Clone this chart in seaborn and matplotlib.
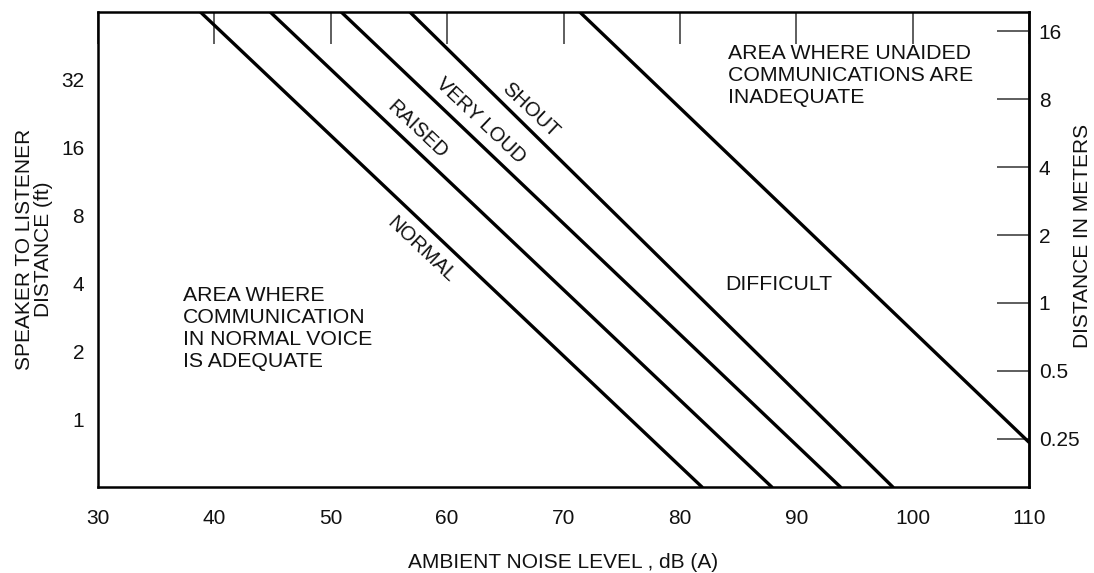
import matplotlib
matplotlib.use("Agg")
import matplotlib.pyplot as plt
import matplotlib.ticker as mticker
import pandas as pd
import seaborn as sns

sns.set_style("white")
plt.rcParams["font.family"] = ["Liberation Sans", "DejaVu Sans"]

# voice effort lines: noise level (dB A) where each line meets the top (64 ft) and bottom (0.5 ft)
voice_levels = ["NORMAL", "RAISED", "VERY LOUD", "SHOUT"]
noise_at_top = [38.8, 44.8, 50.9, 56.8]
noise_at_bottom = [81.9, 87.9, 93.8, 98.3]
dist_top_ft = 64
dist_bottom_ft = 0.5

# limit of unaided communication
difficult_noise = [71.4, 110]
difficult_dist_ft = [64, 0.79]

ft_ticks = [1, 2, 4, 8, 16, 32]
m_ticks = [0.25, 0.5, 1, 2, 4, 8, 16]
m_labels = ["0.25", "0.5", "1", "2", "4", "8", "16"]
x_ticks = [30, 40, 50, 60, 70, 80, 90, 100, 110]

rows = []
for name, a, b in zip(voice_levels, noise_at_top, noise_at_bottom):
    rows.append({"level": name, "noise": a, "dist": dist_top_ft})
    rows.append({"level": name, "noise": b, "dist": dist_bottom_ft})
for n, d in zip(difficult_noise, difficult_dist_ft):
    rows.append({"level": "DIFFICULT", "noise": n, "dist": d})
df = pd.DataFrame(rows)

FS = 15
TXT = "#111111"

fig = plt.figure(figsize=(10.94, 5.73), dpi=100)
ax = fig.add_axes([0.0896, 0.150, 0.851, 0.829])

sns.lineplot(data=df, x="noise", y="dist", units="level", estimator=None,
             color="black", linewidth=2.4, ax=ax, legend=False)

ax.set_yscale("log", base=2)
ax.set_xlim(30, 110)
ax.set_ylim(0.5, 64)
ax.set_xticks(x_ticks)
ax.set_yticks(ft_ticks)
ax.yaxis.set_major_formatter(mticker.FixedFormatter([str(t) for t in ft_ticks]))
ax.yaxis.set_minor_locator(mticker.NullLocator())
ax.tick_params(axis="both", direction="in", length=23, width=1.1, color="#333333",
               labelsize=FS, labelcolor=TXT)
ax.tick_params(axis="x", top=True, labeltop=False, pad=16)
ax.tick_params(axis="y", right=False, pad=10)

for sp in ax.spines.values():
    sp.set_linewidth(1.8)
    sp.set_color("black")

ax.set_xlabel("AMBIENT NOISE LEVEL , dB (A)", fontsize=FS, labelpad=18, color=TXT)
ax.set_ylabel("SPEAKER TO LISTENER\nDISTANCE (ft)", fontsize=FS, labelpad=6,
              linespacing=1.0, color=TXT)

sec = ax.secondary_yaxis("right", functions=(lambda y: y * 0.3048, lambda y: y / 0.3048))
sec.set_yticks(m_ticks)
sec.yaxis.set_major_formatter(mticker.FixedFormatter(m_labels))
sec.yaxis.set_minor_locator(mticker.NullLocator())
sec.tick_params(direction="in", length=23, width=1.1, color="#333333", labelsize=FS,
                labelcolor=TXT, pad=7)
sec.spines["right"].set_linewidth(1.8)

# right axis title placed by hand so it stays inside the picture
fig.text(1082 / 1094, 1 - 236 / 573, "DISTANCE IN METERS", rotation=90,
         ha="center", va="center", fontsize=FS, color=TXT)

# rotated labels along the lines
angle = -43.4
label_pos = {"NORMAL": (421, 250), "RAISED": (417, 130), "VERY LOUD": (481, 121), "SHOUT": (530, 110)}
for name, (px, py) in label_pos.items():
    fig.text(px / 1094, 1 - py / 573, name, rotation=angle, rotation_mode="anchor",
             ha="center", va="center", fontsize=14.5, color=TXT)

fig.text(183 / 1094, 1 - 286 / 573,
         "AREA WHERE\nCOMMUNICATION\nIN NORMAL VOICE\nIS ADEQUATE",
         ha="left", va="top", fontsize=15.3, linespacing=1.2, color=TXT)
fig.text(728 / 1094, 1 - 44 / 573,
         "AREA WHERE UNAIDED\nCOMMUNICATIONS ARE\nINADEQUATE",
         ha="left", va="top", fontsize=15.3, linespacing=1.2, color=TXT)
fig.text(725 / 1094, 1 - 285 / 573, "DIFFICULT", ha="left", va="center",
         fontsize=15.3, color=TXT)

fig.savefig("out.png", dpi=100, facecolor="white")
